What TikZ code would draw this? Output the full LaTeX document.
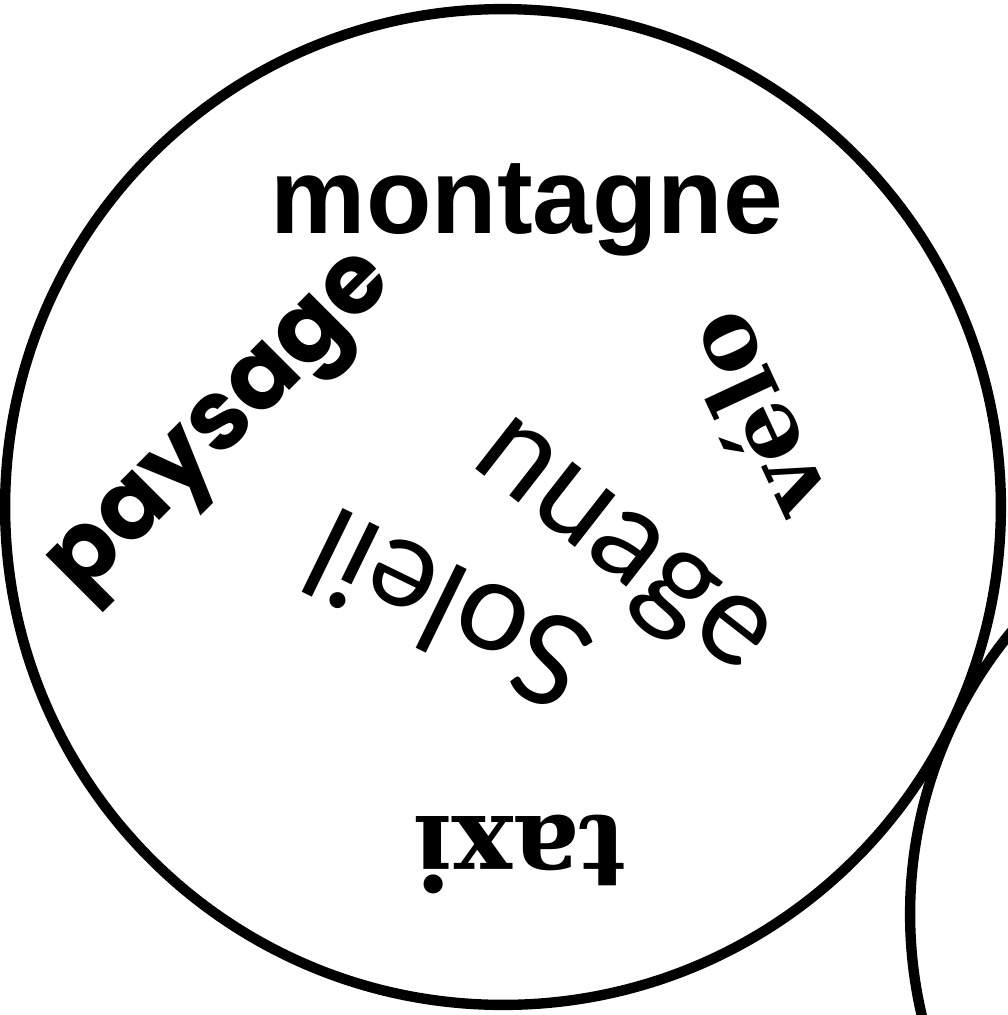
\documentclass[tikz,border=0pt]{standalone}
\usepackage{fontspec}
\setmainfont{Liberation Sans}
\newfontfamily\popfont{Poppins}
\newfontfamily\latofont{Lato}
\newfontfamily\serfont{DejaVu Serif}
\begin{document}
\begin{tikzpicture}[x=0.02cm,y=-0.02cm,
		mot/.style={inner sep=0pt,anchor=mid},
		bord/.style={line width=5.9pt}]
		\useasboundingbox (0,0) rectangle (1008,1015);
		\clip (0,0) rectangle (1008,1015);
		\def\ra{9.96cm} \def\rb{8.88cm}
		\draw[bord] (503,507) circle (\ra);
		\draw[bord] (1354,914) circle (\rb);
		\node[mot,font=\fontsize{61}{70}\selectfont\bfseries] (montagne) at (527,229) {montagne};
		\node[mot,rotate=45,font=\popfont\fontsize{56}{64}\selectfont\bfseries] (paysage) at (235,438) {paysage};
		\node[mot,rotate=115,font=\serfont\fontsize{54}{60}\selectfont\bfseries] (velo) at (781,403) {vélo};
		\node[mot,rotate=-38,font=\latofont\fontsize{74}{80}\selectfont] (nuage) at (607,566) {nuage};
		\node[mot,rotate=154,font=\latofont\fontsize{72}{80}\selectfont] (soleil) at (466,574) {Soleil};
		\node[mot,rotate=180,font=\serfont\fontsize{58}{64}\selectfont\bfseries] (taxi) at (520,821) {taxi};
\end{tikzpicture}
\end{document}
